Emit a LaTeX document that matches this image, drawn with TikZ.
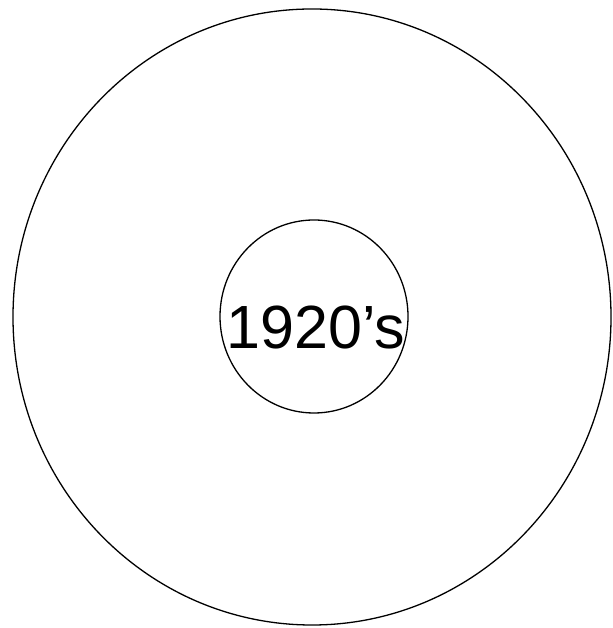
\documentclass[tikz,border=0pt]{standalone}
\usepackage{fontspec}
\setmainfont{Liberation Sans}
\usetikzlibrary{shapes.geometric, positioning}

\begin{document}
\begin{tikzpicture}[
    x=1pt, y=1pt,
    ring/.style={ellipse, draw, line width=1.3pt, inner sep=0pt},
    label/.style={font=\fontsize{61}{61}\selectfont, inner sep=0pt},
]
    % Frame
    \useasboundingbox (0,0) rectangle (612,628);

    % Outer ring
    \node[ring, minimum width=598, minimum height=616] (outer) at (312,311) {};

    % Inner ring
    \node[ring, minimum width=188, minimum height=193] (inner) at (314,311.5) {};

    % Decade
    \node[label] (decade) at (316,300.5) {1920’s};
\end{tikzpicture}
\end{document}
